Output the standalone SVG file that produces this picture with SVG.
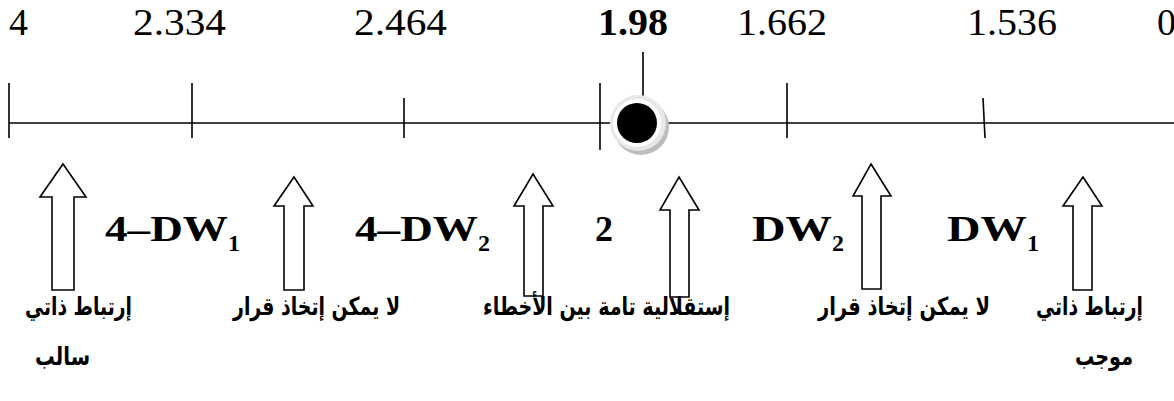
<svg xmlns="http://www.w3.org/2000/svg" width="1174" height="401" viewBox="0 0 1174 401">
  <style>
    .num { font-family: "Liberation Serif", "DejaVu Serif", serif; font-size: 38px; fill: #000; }
    .numb { font-family: "Liberation Serif", "DejaVu Serif", serif; font-size: 38px; font-weight: bold; fill: #000; }
    .lbl { font-family: "Liberation Serif", "DejaVu Serif", serif; font-size: 36px; font-weight: bold; fill: #000; }
    .sub { font-family: "Liberation Serif", "DejaVu Serif", serif; font-size: 24px; font-weight: bold; fill: #000; }
    .ar { font-family: "DejaVu Sans", "Noto Sans", sans-serif; font-size: 25px; font-weight: bold; fill: #000; text-anchor: end; }
    .ln { stroke: #000; stroke-width: 1.6; fill: none; }
    .arrow { fill: #fff; stroke: #000; stroke-width: 1.6; stroke-linejoin: miter; }
  </style>

  <!-- scale values above the line -->
  <g id="scale-values">
    <text class="num" x="9" y="35">4</text>
    <text class="num" x="133" y="35" textLength="93" lengthAdjust="spacingAndGlyphs">2.334</text>
    <text class="num" x="354" y="35" textLength="93" lengthAdjust="spacingAndGlyphs">2.464</text>
    <text class="numb" x="598" y="35" textLength="70" lengthAdjust="spacingAndGlyphs">1.98</text>
    <text class="num" x="737" y="35" textLength="90" lengthAdjust="spacingAndGlyphs">1.662</text>
    <text class="num" x="967" y="35" textLength="90" lengthAdjust="spacingAndGlyphs">1.536</text>
    <text class="num" x="1157" y="35">0</text>
  </g>

  <!-- number line with ticks -->
  <g id="connectors">
    <line class="ln" x1="9" y1="123" x2="1174" y2="123"/>
    <line class="ln" x1="9" y1="83" x2="9" y2="138"/>
    <line class="ln" x1="192" y1="83" x2="192" y2="138"/>
    <line class="ln" x1="404" y1="98" x2="404" y2="138"/>
    <line class="ln" x1="600" y1="83" x2="600" y2="150"/>
    <line class="ln" x1="787" y1="83" x2="787" y2="138"/>
    <line class="ln" x1="983" y1="98" x2="985" y2="138"/>
    <line class="ln" x1="643" y1="52" x2="643" y2="96"/>
  </g>

  <!-- statistic marker -->
  <g id="marker">
    <circle cx="641" cy="127" r="28" fill="#bdbdbd"/>
    <circle cx="638" cy="123" r="28" fill="#e8e8e8"/>
    <circle cx="637" cy="123" r="24" fill="#ffffff"/>
    <circle cx="637" cy="123" r="20" fill="#000000"/>
  </g>

  <!-- block arrows -->
  <g id="arrow-1"><polygon class="arrow" points="63,164 86,197 74,197 74,290 52,290 52,197 40,197"/></g>
  <g id="arrow-2"><polygon class="arrow" points="294,177 313,206 304,206 304,290 284,290 284,206 274,206"/></g>
  <g id="arrow-3"><polygon class="arrow" points="533,174 553,206 543,206 543,296 524,296 524,206 514,206"/></g>
  <g id="arrow-4"><polygon class="arrow" points="679,177 699,210 689,210 689,297 670,297 670,210 660,210"/></g>
  <g id="arrow-5"><polygon class="arrow" points="871,164 891,196 881,196 881,289 862,289 862,196 853,196"/></g>
  <g id="arrow-6"><polygon class="arrow" points="1083,177 1102,206 1092,206 1092,290 1073,290 1073,206 1063,206"/></g>

  <!-- Durbin-Watson bounds -->
  <g id="bound-4-dw1">
    <text class="lbl" x="105" y="241" textLength="123" lengthAdjust="spacingAndGlyphs">4–DW</text>
    <text class="sub" x="228" y="251">1</text>
  </g>
  <g id="bound-4-dw2">
    <text class="lbl" x="355" y="241" textLength="123" lengthAdjust="spacingAndGlyphs">4–DW</text>
    <text class="sub" x="478" y="251">2</text>
  </g>
  <g id="bound-2">
    <text class="lbl" x="595" y="241">2</text>
  </g>
  <g id="bound-dw2">
    <text class="lbl" x="752" y="241" textLength="80" lengthAdjust="spacingAndGlyphs">DW</text>
    <text class="sub" x="832" y="251">2</text>
  </g>
  <g id="bound-dw1">
    <text class="lbl" x="947" y="241" textLength="80" lengthAdjust="spacingAndGlyphs">DW</text>
    <text class="sub" x="1027" y="251">1</text>
  </g>

  <!-- region descriptions (right-aligned Arabic) -->
  <g id="region-negative">
    <text class="ar" transform="translate(132 315) scale(0.75 1)">إرتباط ذاتي</text>
    <text class="ar" x="90" y="365" textLength="55" lengthAdjust="spacingAndGlyphs">سالب</text>
  </g>
  <g id="region-undecided-1">
    <text class="ar" x="400" y="315" textLength="167" lengthAdjust="spacingAndGlyphs">لا يمكن إتخاذ قرار</text>
  </g>
  <g id="region-independence">
    <text class="ar" x="730" y="315" textLength="247" lengthAdjust="spacingAndGlyphs">إستقلالية تامة بين الأخطاء</text>
  </g>
  <g id="region-undecided-2">
    <text class="ar" x="990" y="315" textLength="172" lengthAdjust="spacingAndGlyphs">لا يمكن إتخاذ قرار</text>
  </g>
  <g id="region-positive">
    <text class="ar" transform="translate(1143 315) scale(0.75 1)">إرتباط ذاتي</text>
    <text class="ar" x="1133" y="365" textLength="58" lengthAdjust="spacingAndGlyphs">موجب</text>
  </g>
</svg>
